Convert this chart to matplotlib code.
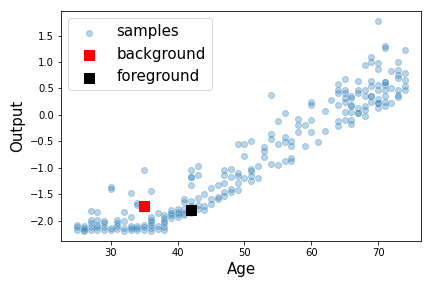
import matplotlib
matplotlib.use("Agg")
import matplotlib.pyplot as plt

# samples, grouped by age
age = [25, 25, 25,
       26, 26, 26, 26,
       27, 27, 27, 27, 27,
       28, 28, 28, 28, 28,
       29, 29, 29, 29,
       30, 30, 30, 30,
       31, 31, 31, 31,
       32, 32, 32, 32,
       33, 33, 33, 33, 33,
       34, 34, 34, 34, 34,
       35, 35, 35, 35,
       36, 36, 36, 36, 36, 36, 36,
       37, 37, 37,
       38, 38, 38, 38, 38, 38,
       39, 39, 39, 39,
       40, 40, 40, 40,
       41, 41, 41, 41, 41,
       42, 42, 42, 42, 42, 42, 42, 42,
       43, 43, 43, 43, 43,
       44, 44, 44,
       45, 45, 45,
       46, 46, 46,
       47, 47, 47, 47, 47,
       48, 48, 48, 48,
       49, 49, 49, 49, 49,
       50, 50, 50,
       51, 51, 51, 51, 51,
       52, 52,
       53, 53, 53,
       54, 54, 54, 54,
       55, 55, 55,
       56, 56, 56, 56,
       57, 57, 57, 57,
       58, 58, 58,
       59, 59,
       60, 60, 60, 60,
       61,
       62, 62,
       63,
       64, 64, 64, 64, 64, 64,
       65, 65, 65, 65, 65, 65, 65,
       66, 66, 66, 66, 66, 66, 66,
       67, 67, 67, 67, 67, 67,
       68, 68, 68, 68, 68, 68,
       69, 69, 69, 69, 69, 69, 69,
       70, 70, 70, 70, 70, 70, 70, 70, 70,
       71, 71, 71, 71, 71, 71, 71, 71, 71,
       72, 72, 72,
       73, 73, 73, 73, 73, 73, 73,
       74, 74, 74, 74, 74]

output = [-2.08, -2.13, -2.17,
          -2.10, -2.14, -2.18, -2.19,
          -1.82, -1.99, -2.04, -2.12, -2.17,
          -1.84, -1.99, -2.08, -2.13, -2.18,
          -2.00, -2.05, -2.12, -2.17,
          -1.37, -1.40, -2.14, -2.18,
          -1.99, -2.05, -2.10, -2.16,
          -1.84, -2.01, -2.15, -2.19,
          -1.48, -1.94, -2.10, -2.15, -2.18,
          -1.67, -1.70, -2.10, -2.15, -2.18,
          -1.05, -2.08, -2.13, -2.17,
          -1.44, -1.93, -1.98, -2.03, -2.09, -2.14, -2.19,
          -1.86, -2.10, -2.16,
          -1.90, -1.95, -2.00, -2.05, -2.12, -2.18,
          -1.80, -1.86, -1.90, -1.95,
          -1.78, -1.83, -1.88, -1.93,
          -1.60, -1.65, -1.78, -1.85, -1.90,
          -1.04, -1.17, -1.18, -1.33, -1.63, -1.72, -1.78, -1.86,
          -0.97, -1.14, -1.57, -1.70, -1.78,
          -1.50, -1.72, -1.80,
          -1.38, -1.60, -1.68,
          -1.33, -1.56, -1.60,
          -1.05, -1.14, -1.29, -1.45, -1.53,
          -1.03, -1.18, -1.41, -1.45,
          -0.55, -1.10, -1.16, -1.29, -1.42,
          -0.55, -0.78, -1.19,
          -0.49, -1.02, -1.07, -1.16, -1.25,
          -0.97, -1.20,
          -0.60, -0.69, -0.79,
          0.37, -0.36, -0.45, -0.92,
          -0.11, -0.55, -0.94,
          0.03, -0.42, -0.52, -0.87,
          -0.49, -0.59, -0.82, -0.88,
          -0.08, -0.19, -0.33,
          -0.19, -0.59,
          0.24, 0.19, -0.09, -0.32,
          -0.51,
          0.08, -0.30,
          0.28,
          0.59, 0.47, 0.41, 0.18, -0.12, -0.21,
          0.68, 0.47, 0.41, 0.32, 0.25, 0.06, -0.09,
          0.35, 0.32, 0.18, 0.16, 0.06, -0.09, -0.17,
          0.64, 0.47, 0.41, 0.13, 0.04, 0.03,
          0.95, 0.47, 0.35, 0.16, 0.09, -0.02,
          1.10, 1.01, 0.64, 0.55, 0.36, 0.36, 0.25,
          1.77, 0.98, 0.87, 0.57, 0.47, 0.30, 0.22, 0.22, 0.13,
          1.31, 1.27, 0.63, 0.63, 0.57, 0.47, 0.35, 0.25, 0.16,
          0.83, 0.51, 0.22,
          1.01, 0.85, 0.76, 0.69, 0.47, 0.38, 0.34,
          1.23, 0.79, 0.66, 0.54, 0.47]

bg_age, bg_out = [35], [-1.72]
fg_age, fg_out = [42], [-1.80]

fig, ax = plt.subplots(figsize=(6, 4), dpi=72)
ax.scatter(age, output, alpha=0.3, label="samples")
ax.scatter(bg_age, bg_out, marker="s", s=100, color="red", label="background")
ax.scatter(fg_age, fg_out, marker="s", s=100, color="black", label="foreground")
ax.set_xlabel("Age", fontsize=15)
ax.set_ylabel("Output", fontsize=15)
ax.legend(loc="upper left", fontsize=15)
fig.subplots_adjust(left=0.141, right=0.975, top=0.962, bottom=0.163)
fig.savefig("out.png")
